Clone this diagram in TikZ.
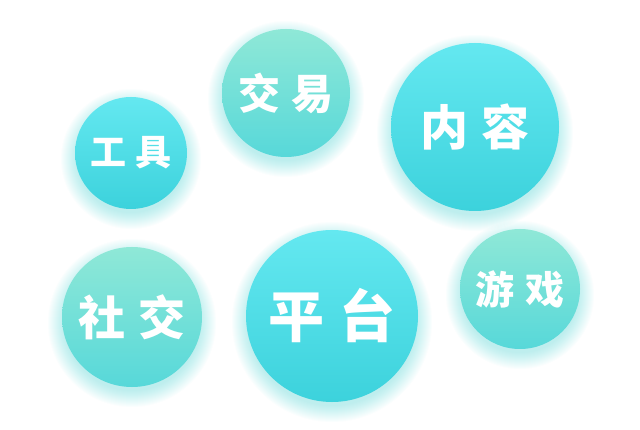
\documentclass[tikz,border=0pt]{standalone}
\usepackage{fontspec}
\newfontfamily\cjk{Noto Sans CJK SC}
\usetikzlibrary{positioning}

\definecolor{cyanTop}{HTML}{64E8F0}
\definecolor{cyanBot}{HTML}{3CD2DC}
\definecolor{mintTop}{HTML}{8FE8D7}
\definecolor{mintBot}{HTML}{57D8D9}
\definecolor{glowC}{HTML}{4FD9E2}

\newcommand{\gap}{\hspace{0.26em}}

\begin{document}
\begin{tikzpicture}[
  x=1pt, y=-1pt,
  bubble/.style={circle, inner sep=0pt, text=white, font=\cjk\bfseries},
  cyanball/.style={bubble, top color=cyanTop, bottom color=cyanBot},
  mintball/.style={bubble, top color=mintTop, bottom color=mintBot},
  glow/.style={fill=glowC, opacity=0.022}
]
\useasboundingbox[fill=white] (0,0) rectangle (640,430);

% ---------------- soft glow under every ball ----------------
\foreach \cx/\cy/\r in {131/153/56, 286/93/64, 475/127/84, 132/317/70, 332/316/86, 520/289/60}{
  \foreach \k in {0,...,16}
    \fill[glow] (\cx,\cy+6) circle ({\r-2+\k});
}

% ---------------- upper row ----------------
\node[cyanball, minimum size=112pt, font=\cjk\bfseries\fontsize{36}{36}\selectfont] (tool) at (131,153) {工\gap{}具};
\node[mintball, minimum size=128pt, font=\cjk\bfseries\fontsize{42}{42}\selectfont] (trade) at (286,93) {交\gap{}易};
\node[cyanball, minimum size=168pt, font=\cjk\bfseries\fontsize{48}{48}\selectfont] (content) at (475,127) {内\gap{}容};

% ---------------- lower row ----------------
\node[mintball, minimum size=140pt, font=\cjk\bfseries\fontsize{47}{47}\selectfont] (social) at (132,317) {社\gap{}交};
\node[cyanball, minimum size=172pt, font=\cjk\bfseries\fontsize{56}{56}\selectfont] (platform) at (332,316) {平\gap{}台};
\node[mintball, minimum size=120pt, font=\cjk\bfseries\fontsize{39}{39}\selectfont] (game) at (520,289) {游\gap{}戏};

\end{tikzpicture}
\end{document}
